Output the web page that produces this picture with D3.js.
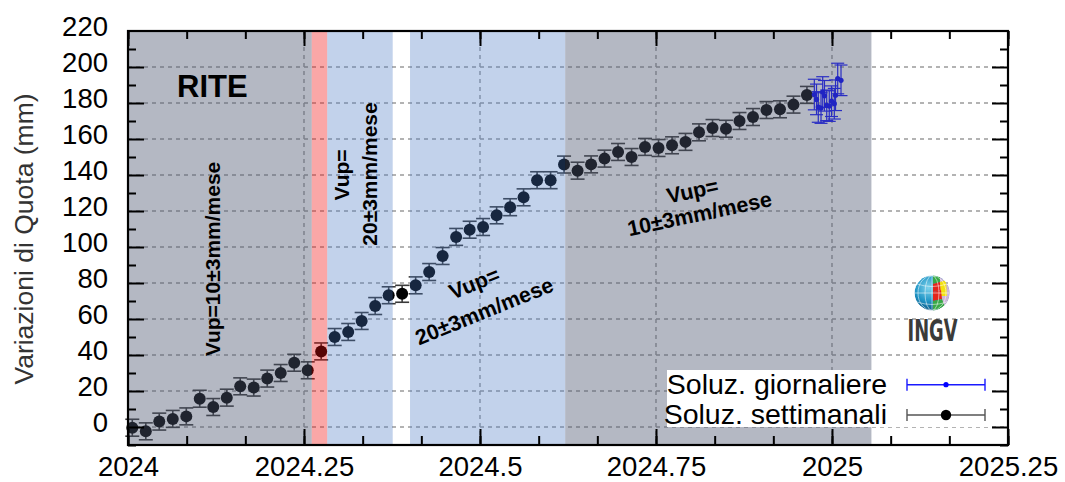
<!DOCTYPE html>
<html><head><meta charset="utf-8">
<script src="https://cdn.jsdelivr.net/npm/d3@7"></script>
<style>body{margin:0;background:#fff} svg{display:block}</style>
</head><body><svg id="c" width="1065" height="482"></svg>
<script>
// ---------- data ----------
const weeklyDates = [2024.0061,2024.0253,2024.0444,2024.0636,2024.0828,2024.1019,2024.1211,2024.1403,2024.1594,2024.1786,
  2024.1978,2024.2169,2024.2361,2024.2553,2024.2744,2024.2936,2024.3128,2024.3319,2024.3511,2024.3703,
  2024.3894,2024.4086,2024.4278,2024.4469,2024.4661,2024.4853,2024.5044,2024.5236,2024.5428,2024.5619,
  2024.5811,2024.6003,2024.6194,2024.6386,2024.6578,2024.6769,2024.6961,2024.7153,2024.7344,2024.7536,
  2024.7728,2024.7919,2024.8111,2024.8303,2024.8494,2024.8686,2024.8878,2024.9069,2024.9261,2024.9453,2024.9644];
const weeklyValues = [-0.4,-2.4,3.0,4.5,5.9,15.7,11.1,16.3,22.6,21.9,
  26.9,30.0,35.7,31.5,42.0,50.0,52.8,58.9,67.2,73.2,
  74.0,78.7,86.1,95.0,105.6,109.6,111.1,117.6,122.1,127.6,
  137.1,137.1,145.8,142.4,145.9,149.1,152.8,150.0,155.6,155.0,
  156.5,158.4,163.7,166.1,165.7,170.0,172.2,176.1,176.5,179.1,184.5];
const weeklyError = 4.7;
const dailyDates = [2024.9749,2024.9780,2024.9805,2024.9844,2024.9868,2024.9893,2024.9925,2024.9961,2024.9993,2025.0033,2025.0050,2025.0081,2025.0128];
const dailyValues = [184.7,182.0,177.8,177.2,186.1,184.0,178.7,178.3,181.0,179.6,184.3,193.6,192.6];
const dailyError = 8.5;
const xTickValues = [2024, 2024.25, 2024.5, 2024.75, 2025, 2025.25];
const xTickLabels = ["2024","2024.25","2024.5","2024.75","2025","2025.25"];
const xGridValues = [2024.25, 2024.5, 2024.75, 2025];
const yTickValues = [0,20,40,60,80,100,120,140,160,180,200,220];
const yGridValues = [0,20,40,60,80,100,120,140,160,180,200];
const bandStarts = [2024, 2024.261, 2024.283, 2024.4006, 2024.621];
const bandEnds   = [2024.261, 2024.283, 2024.376, 2024.621, 2025.056];
const bandKinds  = ["gray","red","blue","blue","gray"];
const legendLabels = ["Soluz. giornaliere","Soluz. settimanali"];

// ---------- setup ----------
const W = 1065, H = 482;
const L = 128, R = 1008, T = 31, B = 445;
const FONT = "'Liberation Sans', Arial, Helvetica, sans-serif";
const svg = d3.select("#c");
const x = d3.scaleLinear().domain([2024, 2025.25]).range([L, R]);
const y = d3.scaleLinear().domain([-10, 220]).range([B, T]);
svg.append("rect").attr("width", W).attr("height", H).attr("fill", "#fff");

// grid
const grid = svg.append("g").attr("stroke", "#9a9a9a").attr("stroke-width", 1.4).attr("stroke-dasharray", "4,4");
grid.selectAll("line.gx").data(xGridValues).join("line")
  .attr("x1", d => x(d)).attr("x2", d => x(d)).attr("y1", T).attr("y2", B);
grid.selectAll("line.gy").data(yGridValues).join("line")
  .attr("x1", L).attr("x2", R).attr("y1", d => y(d)).attr("y2", d => y(d));

// data
const weekly = weeklyDates.map((d, i) => ({x: d, v: weeklyValues[i], e: weeklyError}));
const daily = dailyDates.map((d, i) => ({x: d, v: dailyValues[i], e: dailyError}));

function errorBars(g, data, color, width, capHalf) {
  const eb = g.append("g").attr("stroke", color).attr("stroke-width", width);
  eb.selectAll("line.v").data(data).join("line")
    .attr("x1", d => x(d.x)).attr("x2", d => x(d.x))
    .attr("y1", d => y(d.v - d.e)).attr("y2", d => y(d.v + d.e));
  eb.selectAll("line.t").data(data).join("line")
    .attr("x1", d => x(d.x) - capHalf).attr("x2", d => x(d.x) + capHalf)
    .attr("y1", d => y(d.v + d.e)).attr("y2", d => y(d.v + d.e));
  eb.selectAll("line.b").data(data).join("line")
    .attr("x1", d => x(d.x) - capHalf).attr("x2", d => x(d.x) + capHalf)
    .attr("y1", d => y(d.v - d.e)).attr("y2", d => y(d.v - d.e));
}
const dataG = svg.append("g");
errorBars(dataG, weekly, "#3a3a3a", 1.6, 7);
dataG.append("g").selectAll("circle").data(weekly).join("circle")
  .attr("cx", d => x(d.x)).attr("cy", d => y(d.v)).attr("r", 6).attr("fill", "#000");
errorBars(dataG, daily, "#1010ff", 1.2, 6.5);
dataG.append("g").selectAll("circle").data(daily).join("circle")
  .attr("cx", d => x(d.x)).attr("cy", d => y(d.v)).attr("r", 2.6).attr("fill", "#0000ff");

// translucent overlay bands
const bandStyle = {
  gray: {fill: "rgb(76,86,112)", op: 0.42},
  red:  {fill: "rgb(241,10,12)", op: 0.36},
  blue: {fill: "rgb(70,119,194)", op: 0.33}
};
const bands = bandStarts.map((s, i) => ({s, e: bandEnds[i], k: bandKinds[i]}));
svg.append("g").selectAll("rect").data(bands).join("rect")
  .attr("x", d => x(d.s)).attr("width", d => x(d.e) - x(d.s))
  .attr("y", T).attr("height", B - T)
  .attr("fill", d => bandStyle[d.k].fill).attr("fill-opacity", d => bandStyle[d.k].op);

// annotations
const ann = svg.append("g").attr("font-family", FONT).attr("font-weight", "bold").attr("fill", "#000");
ann.append("text").attr("x", 177).attr("y", 97).attr("font-size", 31).text("RITE");
function rotText(txt, cx, cy, ang, size) {
  ann.append("text").attr("transform", `translate(${cx},${cy}) rotate(${ang})`)
    .attr("text-anchor", "middle").attr("font-size", size).text(txt);
}
rotText("Vup=10\u00b13mm/mese", 220, 259, -90, 21);
rotText("Vup=", 349, 175, -90, 21);
rotText("20\u00b13mm/mese", 377, 174, -90, 21);
rotText("Vup=", 477, 290, -22, 21.5);
rotText("20\u00b13mm/mese", 487, 318, -22, 21.5);
rotText("Vup=", 694, 198, -12, 21.5);
rotText("10\u00b13mm/mese", 701, 221, -12, 21.5);

// legend
const leg = svg.append("g");
leg.append("rect").attr("x", 667).attr("y", 370).attr("width", 323).attr("height", 57).attr("fill", "#fff");
const legY = [384.7, 415];
const legColor = ["#1a1aff", "#555"];
leg.selectAll("text").data(legendLabels).join("text")
  .attr("x", 887).attr("y", (d, i) => legY[i] + 9)
  .attr("text-anchor", "end").attr("font-family", FONT).attr("font-size", 28.5).attr("fill", "#000")
  .text(d => d);
legendLabels.forEach((d, i) => {
  const g = leg.append("g").attr("stroke", legColor[i]).attr("stroke-width", 1.4);
  g.append("line").attr("x1", 907).attr("x2", 985).attr("y1", legY[i]).attr("y2", legY[i]);
  g.append("line").attr("x1", 907).attr("x2", 907).attr("y1", legY[i] - 6).attr("y2", legY[i] + 6);
  g.append("line").attr("x1", 985).attr("x2", 985).attr("y1", legY[i] - 6).attr("y2", legY[i] + 6);
  leg.append("circle").attr("cx", 946).attr("cy", legY[i]).attr("r", i === 0 ? 2.6 : 5.2)
    .attr("fill", i === 0 ? "#0000ff" : "#000");
});

// INGV logo
const defs = svg.append("defs");
const rg = defs.append("radialGradient").attr("id", "globe").attr("cx", "40%").attr("cy", "35%").attr("r", "70%");
rg.append("stop").attr("offset", "0%").attr("stop-color", "#7fd3ec");
rg.append("stop").attr("offset", "55%").attr("stop-color", "#1f95c6");
rg.append("stop").attr("offset", "100%").attr("stop-color", "#0a4f7c");
defs.append("clipPath").attr("id", "gclip").append("circle").attr("r", 17.5);
const logo = svg.append("g").attr("transform", "translate(932,293)");
const lg = logo.append("g").attr("clip-path", "url(#gclip)");
lg.append("circle").attr("r", 17.5).attr("fill", "url(#globe)");
lg.append("path").attr("d", "M7,-17 L18,-8 L18,10 L10,14 L7,4 Z").attr("fill", "#cdb6d9");
lg.append("path").attr("d", "M1,-18 L8,-16 L8,-11 L1,-9 Z").attr("fill", "#38a846");
lg.append("path").attr("d", "M1,-9 L8,-11 L9,-3 L1,-1 Z").attr("fill", "#e3241b");
lg.append("path").attr("d", "M8,-11 L14,-13 L15,3 L9,3 Z").attr("fill", "#f3e20f");
lg.append("path").attr("d", "M1,-1 L9,-3 L10,6 L1,8 Z").attr("fill", "#e3241b");
lg.append("path").attr("d", "M1,8 L10,6 L13,14 L1,18 Z").attr("fill", "#38a846");
const wl = lg.append("g").attr("stroke", "#fff").attr("stroke-opacity", 0.75).attr("stroke-width", 0.7).attr("fill", "none");
wl.append("ellipse").attr("rx", 7).attr("ry", 17.5);
wl.append("ellipse").attr("rx", 14).attr("ry", 17.5);
wl.append("line").attr("x1", 0).attr("x2", 0).attr("y1", -17.5).attr("y2", 17.5);
wl.append("line").attr("x1", -17.5).attr("x2", 17.5).attr("y1", 0).attr("y2", 0);
wl.append("path").attr("d", "M-15,-9 Q0,-4 15,-9");
wl.append("path").attr("d", "M-15,9 Q0,14 15,9");
logo.append("text").attr("x", 0.5).attr("y", 48).attr("text-anchor", "middle")
  .attr("font-family", "'DejaVu Sans Condensed','DejaVu Sans',sans-serif").attr("font-weight", "bold")
  .attr("font-size", 30).attr("textLength", 50).attr("lengthAdjust", "spacingAndGlyphs")
  .attr("fill", "#3b3b39").text("INGV");

// axes
const minorY = d3.range(-10, 221, 10).filter(v => v % 20 !== 0);
const minorX = d3.range(0, 16).map(k => 2024 + k / 12);
function styleAxis(g) {
  g.select(".domain").remove();
  g.selectAll(".tick line").attr("stroke", "#000").attr("stroke-width", 2);
}
const yAxis = svg.append("g").attr("transform", `translate(${L},0)`)
  .call(d3.axisLeft(y).tickValues(yTickValues).tickSize(-16).tickPadding(20).tickFormat(d3.format("d")));
styleAxis(yAxis);
yAxis.selectAll(".tick text").attr("font-family", FONT).attr("font-size", 27.5).attr("fill", "#000").attr("y", -4);
yAxis.selectAll(".tick").filter(d => d === 220).select("line").remove();
svg.append("g").attr("transform", `translate(${L},0)`)
  .call(d3.axisLeft(y).tickValues(minorY).tickSize(-8).tickFormat("")).call(styleAxis);
const yAxisR = svg.append("g").attr("transform", `translate(${R},0)`)
  .call(d3.axisRight(y).tickValues(yTickValues.filter(v => v < 220)).tickSize(-16).tickFormat(""));
styleAxis(yAxisR);
svg.append("g").attr("transform", `translate(${R},0)`)
  .call(d3.axisRight(y).tickValues(minorY).tickSize(-8).tickFormat("")).call(styleAxis);

const xAxis = svg.append("g").attr("transform", `translate(0,${B})`)
  .call(d3.axisBottom(x).tickValues(xTickValues).tickSize(-16).tickPadding(11).tickFormat((d, i) => xTickLabels[i]));
styleAxis(xAxis);
xAxis.selectAll(".tick text").attr("font-family", FONT).attr("font-size", 27.5).attr("fill", "#000");
svg.append("g").attr("transform", `translate(0,${B})`)
  .call(d3.axisBottom(x).tickValues(minorX).tickSize(-9).tickFormat("")).call(styleAxis);
svg.append("g").attr("transform", `translate(0,${T})`)
  .call(d3.axisTop(x).tickValues(xTickValues).tickSize(-15).tickFormat("")).call(styleAxis);
svg.append("g").attr("transform", `translate(0,${T})`)
  .call(d3.axisTop(x).tickValues(minorX).tickSize(-8).tickFormat("")).call(styleAxis);

// border
svg.append("rect").attr("x", L).attr("y", T).attr("width", R - L).attr("height", B - T)
  .attr("fill", "none").attr("stroke", "#000").attr("stroke-width", 2.2);

// y label
svg.append("text").attr("transform", "translate(33,239) rotate(-90)")
  .attr("text-anchor", "middle").attr("font-family", FONT).attr("font-size", 26.5).attr("fill", "#333")
  .text("Variazioni di Quota (mm)");
</script></body></html>
